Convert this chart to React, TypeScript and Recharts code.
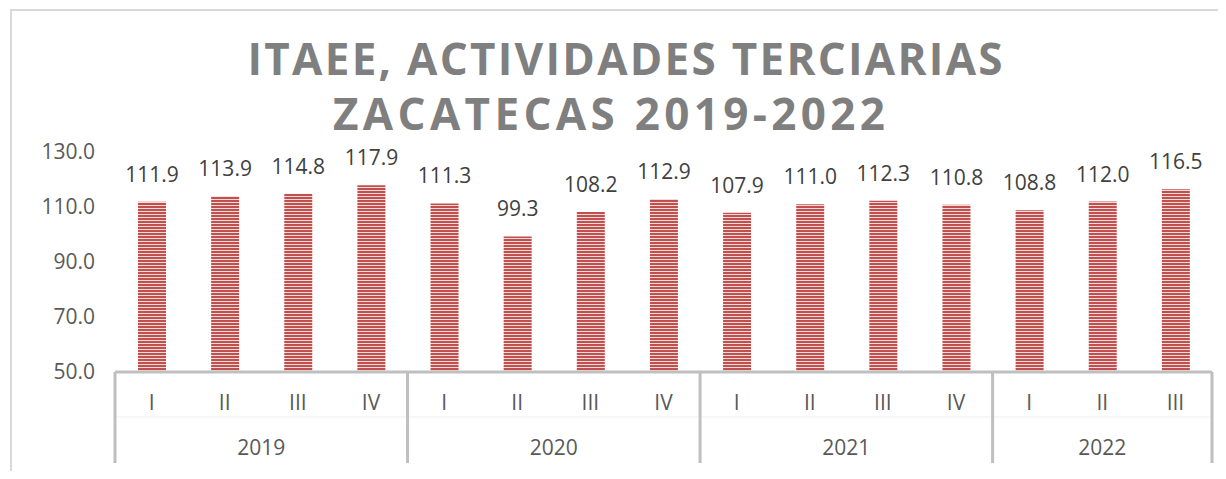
import { BarChart, Bar, XAxis, YAxis, LabelList, Customized } from 'recharts';

const quarters = ['I', 'II', 'III', 'IV', 'I', 'II', 'III', 'IV', 'I', 'II', 'III', 'IV', 'I', 'II', 'III'];
const years = ['2019', '2019', '2019', '2019', '2020', '2020', '2020', '2020', '2021', '2021', '2021', '2021', '2022', '2022', '2022'];
const values = [111.9, 113.9, 114.8, 117.9, 111.3, 99.3, 108.2, 112.9, 107.9, 111.0, 112.3, 110.8, 108.8, 112.0, 116.5];
const yTicks = [50, 70, 90, 110, 130];
const titleLines = ['ITAEE, ACTIVIDADES TERCIARIAS', 'ZACATECAS 2019-2022'];

const data = values.map((v, i) => ({ name: `${years[i]} ${quarters[i]}`, value: v }));

const W = 1206;
const H = 460;
const margin = { top: 141, right: 6, bottom: 4, left: 43 };
const Y_W = 60;
const X_H = 95;
const BAND = (W - margin.left - margin.right - Y_W) / data.length;
const FONT = '"Open Sans", sans-serif';

function QuarterTick(props: any) {
    const { x, y, payload } = props;
    const i = payload.index;
    const isFirst = i === 0 || years[i] !== years[i - 1];
    const isLast = i === data.length - 1;
    const n = years.filter((yr) => yr === years[i]).length;
    return (
        <g>
            <line x1={x - BAND / 2} x2={x + BAND / 2} y1={y + 45} y2={y + 45} stroke="#efefef" strokeWidth={1} />
            <text x={x} y={y + 38} textAnchor="middle" fill="#595959" fontSize={21} fontFamily={FONT}>
                {quarters[i]}
            </text>
            {isFirst && (
                <>
                    <line x1={x - BAND / 2} x2={x - BAND / 2} y1={y} y2={y + 91} stroke="#bfbfbf" strokeWidth={3} />
                    <text x={x + (BAND * (n - 1)) / 2} y={y + 83} textAnchor="middle" fill="#595959" fontSize={21} fontFamily={FONT}>
                        {years[i]}
                    </text>
                </>
            )}
            {isLast && <line x1={x + BAND / 2} x2={x + BAND / 2} y1={y} y2={y + 91} stroke="#bfbfbf" strokeWidth={3} />}
        </g>
    );
}

function Title() {
    return (
        <g>
            <text x={613} y={64} textAnchor="middle" fill="#7f7f7f" fontSize={44} fontWeight="bold" fontFamily={FONT} textLength={755} lengthAdjust="spacing">
                {titleLines[0]}
            </text>
            <text x={597} y={119} textAnchor="middle" fill="#7f7f7f" fontSize={44} fontWeight="bold" fontFamily={FONT} textLength={552} lengthAdjust="spacing">
                {titleLines[1]}
            </text>
        </g>
    );
}

export default function App() {
    return (
        <div style={{ marginLeft: 2, marginTop: 1, width: W, height: H, borderTop: '2px solid #d9d9d9', borderLeft: '2px solid #d9d9d9', background: '#fff' }}>
            <BarChart width={W} height={H} data={data} margin={margin} barSize={28}>
                <defs>
                    <pattern id="stripes" width={6} height={3} patternUnits="userSpaceOnUse">
                        <rect x={0} y={0} width={6} height={3} fill="#f6dada" />
                        <rect x={0} y={0} width={6} height={2} fill="#c0504d" />
                    </pattern>
                </defs>
                <Customized component={Title} />
                <XAxis
                    dataKey="name"
                    interval={0}
                    height={X_H}
                    tickLine={false}
                    tickSize={0}
                    tickMargin={0}
                    axisLine={{ stroke: '#bfbfbf', strokeWidth: 3 }}
                    tick={<QuarterTick />}
                />
                <YAxis
                    width={Y_W}
                    domain={[50, 130]}
                    ticks={yTicks}
                    axisLine={false}
                    tickLine={false}
                    tickMargin={14}
                    tickFormatter={(v: number) => v.toFixed(1)}
                    tick={{ fill: '#595959', fontSize: 21, fontFamily: FONT }}
                />
                <Bar dataKey="value" fill="url(#stripes)" isAnimationActive={false}>
                    <LabelList
                        dataKey="value"
                        position="top"
                        offset={20}
                        formatter={(v: any) => Number(v).toFixed(1)}
                        fill="#404040"
                        fontSize={21}
                        fontFamily={FONT}
                    />
                </Bar>
            </BarChart>
        </div>
    );
}
